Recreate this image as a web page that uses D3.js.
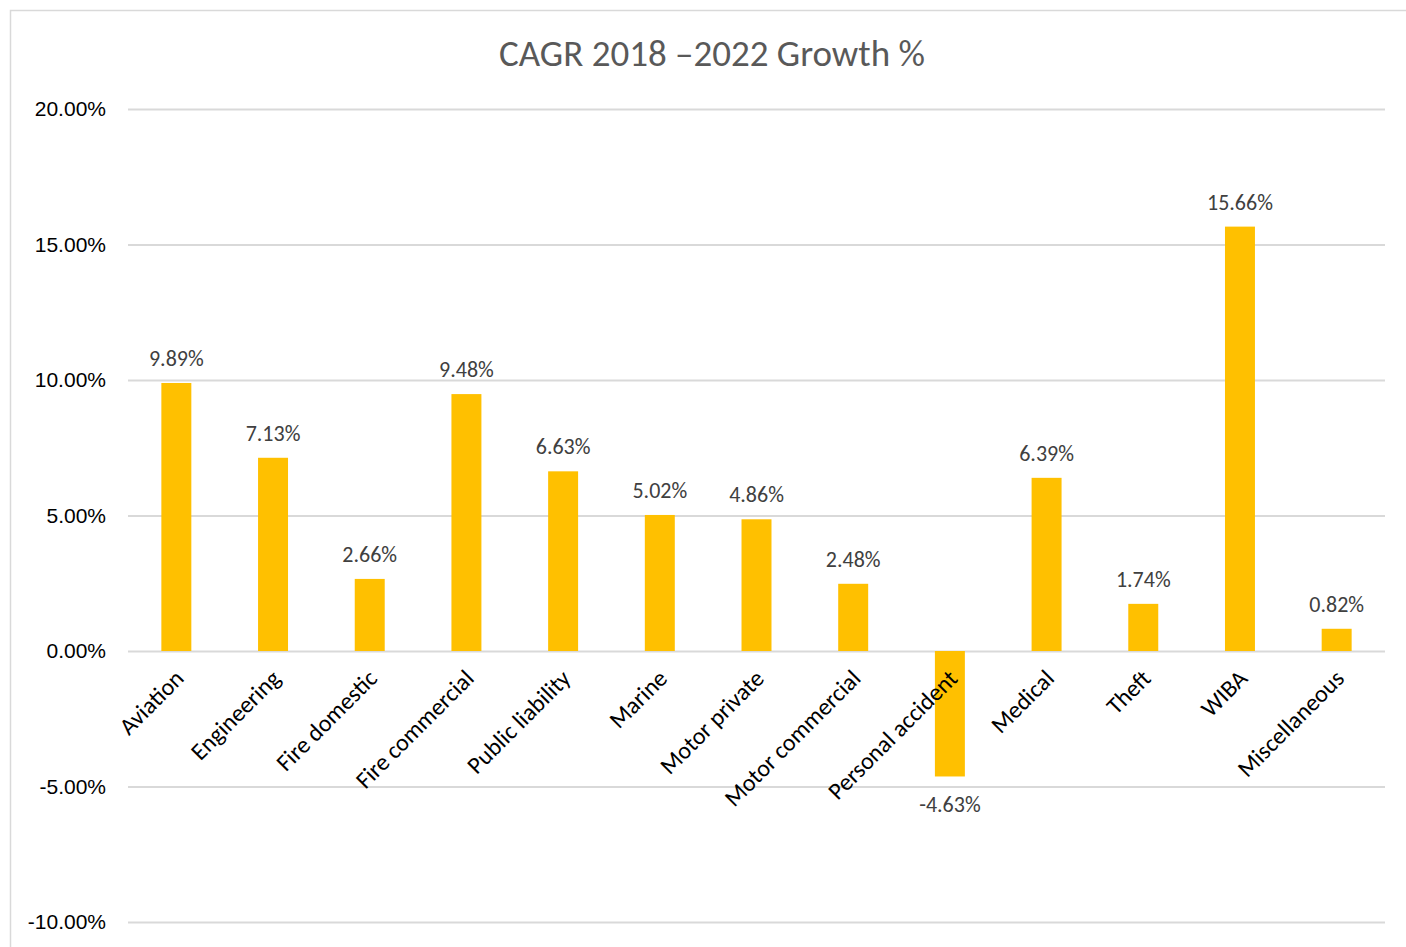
<!DOCTYPE html>
<html>
<head>
<meta charset="utf-8">
<script src="https://cdn.jsdelivr.net/npm/d3@7"></script>
<style>
  html, body { margin: 0; padding: 0; background: #fff; }
  svg { display: block; font-family: Carlito, Lato, "Open Sans", sans-serif; }
</style>
</head>
<body>
<svg id="chart" width="1406" height="947"></svg>
<script>
const categories = ["Aviation", "Engineering", "Fire domestic", "Fire commercial", "Public liability",
  "Marine", "Motor private", "Motor commercial", "Personal accident", "Medical", "Theft", "WIBA", "Miscellaneous"];
const growth = [9.89, 7.13, 2.66, 9.48, 6.63, 5.02, 4.86, 2.48, -4.63, 6.39, 1.74, 15.66, 0.82];
const tickValues = [-10, -5, 0, 5, 10, 15, 20];
const title = "CAGR 2018 \u20132022 Growth %";

const svg = d3.select("#chart");
const plot = { left: 128, right: 1385, top: 109, bottom: 922 };

// chart frame
svg.append("rect")
  .attr("x", 10.5).attr("y", 10.5)
  .attr("width", 1420).attr("height", 960)
  .attr("fill", "#fff").attr("stroke", "#d9d9d9").attr("stroke-width", 1.5);

const x = d3.scaleBand().domain(categories).range([plot.left, plot.right]).paddingInner(0.69).paddingOuter(0.345);
const y = d3.scaleLinear().domain([-10, 20]).range([plot.bottom, plot.top]);

// title
svg.append("text")
  .attr("x", 712).attr("y", 66)
  .attr("text-anchor", "middle")
  .attr("font-size", 37).attr("fill", "#595959")
  .text(title);

// gridlines and value axis labels
const yAxis = d3.axisLeft(y).tickValues(tickValues).tickSize(-(plot.right - plot.left))
  .tickFormat(d => d.toFixed(2) + "%");
const gy = svg.append("g").attr("transform", `translate(${plot.left},0)`).call(yAxis);
gy.select(".domain").remove();
gy.selectAll(".tick line").attr("stroke", "#d9d9d9").attr("stroke-width", 2);
gy.selectAll(".tick text").attr("x", -22).attr("font-size", 21).attr("fill", "#000");

// bars
svg.append("g").selectAll("rect").data(growth).join("rect")
  .attr("x", (d, i) => x(categories[i]))
  .attr("width", x.bandwidth())
  .attr("y", d => y(Math.max(0, d)))
  .attr("height", d => Math.abs(y(d) - y(0)))
  .attr("fill", "#ffc000");

// value labels
svg.append("g").selectAll("text").data(growth).join("text")
  .attr("x", (d, i) => x(categories[i]) + x.bandwidth() / 2)
  .attr("y", d => d >= 0 ? y(d) - 17 : y(d) + 36)
  .attr("text-anchor", "middle")
  .attr("font-size", 22).attr("fill", "#404040")
  .text(d => d.toFixed(2) + "%");

// category labels, rotated
svg.append("g").selectAll("text").data(categories).join("text")
  .attr("transform", d => `translate(${x(d) + x.bandwidth() / 2 + 3},${y(0) + 23}) rotate(-45)`)
  .attr("text-anchor", "end")
  .attr("dy", "0.35em")
  .attr("font-size", 24).attr("fill", "#000")
  .text(d => d);
</script>
</body>
</html>
